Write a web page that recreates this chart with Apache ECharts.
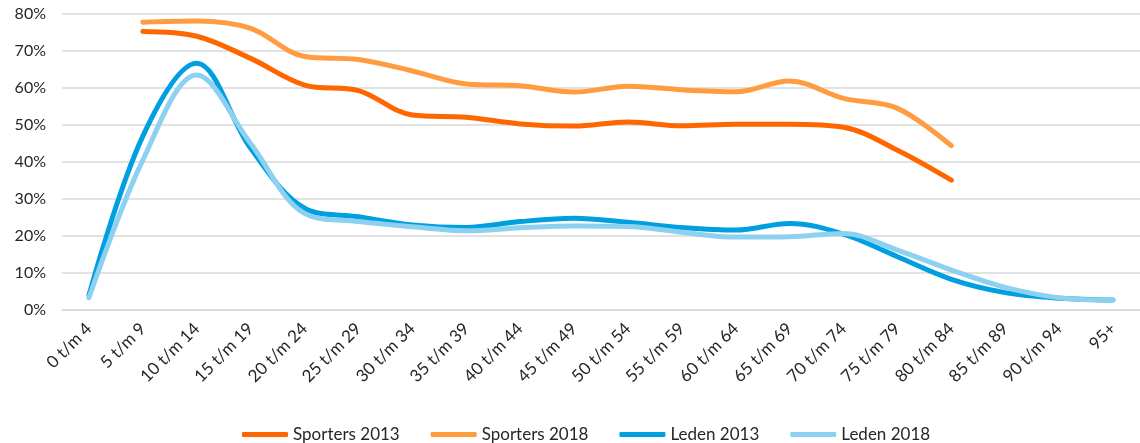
<!DOCTYPE html>
<html>
<head>
    <meta charset="utf-8">
    <title>Sporters en leden per leeftijd</title>
    <script src="https://cdn.jsdelivr.net/npm/echarts@6/dist/echarts.min.js"></script>
    <style>
        html, body { margin: 0; padding: 0; background: #fff; }
    </style>
</head>
<body>
    <div id="main" style="width: 1140px;height:443px;"></div>
    <script type="text/javascript">
        // age groups
        var categories = ['0 t/m 4', '5 t/m 9', '10 t/m 14', '15 t/m 19', '20 t/m 24', '25 t/m 29',
            '30 t/m 34', '35 t/m 39', '40 t/m 44', '45 t/m 49', '50 t/m 54', '55 t/m 59',
            '60 t/m 64', '65 t/m 69', '70 t/m 74', '75 t/m 79', '80 t/m 84', '85 t/m 89',
            '90 t/m 94', '95+'];
        // values in percent, '-' = no value
        var sporters2013 = ['-', 75.3, 74.0, 68.0, 60.8, 59.3, 52.7, 52.1, 50.3, 49.7, 50.8, 49.8, 50.2, 50.2, 49.4, 43.2, 35.1, '-', '-', '-'];
        var sporters2018 = ['-', 77.8, 78.1, 76.1, 68.5, 67.7, 64.6, 61.1, 60.6, 58.9, 60.5, 59.5, 59.0, 61.9, 57.2, 54.5, 44.4, '-', '-', '-'];
        var leden2013 = [4.0, 47.0, 66.7, 43.7, 27.5, 25.2, 23.0, 22.3, 23.9, 24.8, 23.7, 22.3, 21.6, 23.4, 20.5, 14.4, 8.3, 4.7, 3.2, 2.7];
        var leden2018 = [3.3, 40.5, 63.5, 45.0, 26.1, 23.9, 22.5, 21.4, 22.2, 22.7, 22.6, 21.0, 19.7, 19.8, 20.7, 16.2, 10.8, 6.1, 3.3, 2.7];
        var yTicks = [0, 10, 20, 30, 40, 50, 60, 70, 80];

        var myChart = echarts.init(document.getElementById('main'));

        function lineSeries(name, data, color) {
            return {
                name: name,
                type: 'line',
                data: data,
                smooth: 0.35,
                symbol: 'none',
                connectNulls: false,
                lineStyle: { width: 5, color: color, cap: 'round' },
                itemStyle: { color: color }
            };
        }

        var option = {
            backgroundColor: '#fff',
            animation: false,
            textStyle: { fontFamily: 'Lato' },
            grid: { left: 62, right: -9, top: 14, bottom: 133, containLabel: false },
            legend: {
                top: 421,
                left: 237,
                itemWidth: 46,
                itemHeight: 5,
                itemGap: 31,
                icon: 'roundRect',
                textStyle: { fontSize: 17, color: '#262626', fontFamily: 'Lato' },
                data: ['Sporters 2013', 'Sporters 2018', 'Leden 2013', 'Leden 2018']
            },
            xAxis: {
                type: 'category',
                data: categories,
                boundaryGap: true,
                axisLine: { lineStyle: { color: '#d9d9d9', width: 1.5 } },
                axisTick: { show: false },
                axisLabel: {
                    rotate: 45,
                    interval: 0,
                    margin: 16,
                    fontSize: 17,
                    color: '#262626',
                    fontFamily: 'Lato'
                }
            },
            yAxis: {
                type: 'value',
                min: yTicks[0],
                max: yTicks[yTicks.length - 1],
                interval: 10,
                axisLine: { show: false },
                axisTick: { show: false },
                splitLine: { lineStyle: { color: '#d9d9d9', width: 1.5 } },
                axisLabel: {
                    formatter: '{value}%',
                    fontSize: 16,
                    color: '#262626',
                    margin: 16,
                    fontFamily: 'Lato'
                }
            },
            series: [
                lineSeries('Sporters 2013', sporters2013, '#ff6600'),
                lineSeries('Sporters 2018', sporters2018, '#ff9c40'),
                lineSeries('Leden 2013', leden2013, '#009fe0'),
                lineSeries('Leden 2018', leden2018, '#8dd1f1')
            ]
        };
        myChart.setOption(option);
    </script>
</body>
</html>
